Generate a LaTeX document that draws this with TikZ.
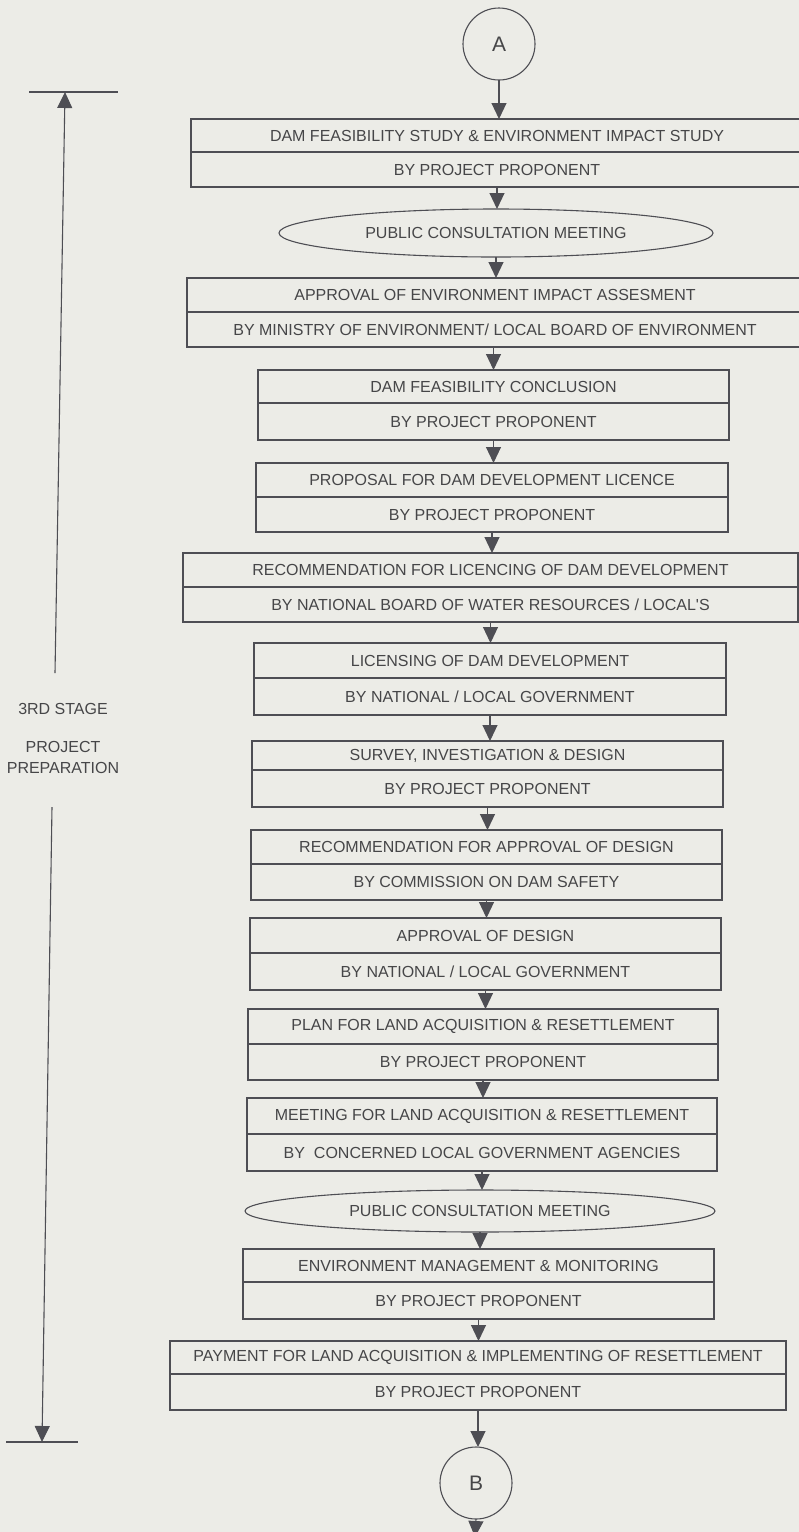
\documentclass[tikz,border=0pt]{standalone}
\usepackage{fontspec}
\setmainfont{Liberation Sans}
\usetikzlibrary{arrows.meta,shapes.geometric}

\definecolor{paper}{RGB}{236,236,231}
\definecolor{ink}{RGB}{78,78,84}
\definecolor{txt}{RGB}{70,70,72}

% two-part process box: title part on top, responsible party below
% #1 name, #2 centre x, #3 top y, #4 width, #5 upper height, #6 lower height, #7 title, #8 party
\newcommand\flowbox[8]{%
  \node[part, minimum width=#4pt, minimum height=#5pt, anchor=north] (#1) at (#2,#3) {#7};
  \node[part, minimum width=#4pt, minimum height=#6pt, anchor=north] (#1b) at (#1.south) {#8};
}

\begin{document}
\begin{tikzpicture}[x=1pt,y=-1pt,
  every node/.style={text=txt, font=\fontsize{16}{19}\selectfont},
  part/.style={draw=ink, line width=1.1pt, rectangle, inner sep=0pt, outer sep=0pt},
  meet/.style={draw=ink, line width=1.1pt, ellipse, inner sep=0pt, outer sep=0pt},
  conn/.style={draw=ink, line width=1.1pt, circle, inner sep=0pt, outer sep=0pt,
    minimum size=72pt, font=\fontsize{21}{24}\selectfont},
  arr/.style={draw=ink, line width=1.1pt, -{Triangle[width=15pt,length=16pt,fill=ink]}},
  bar/.style={draw=ink, line width=1.1pt}]

\fill[paper] (0,0) rectangle (799,1532);
\useasboundingbox (0,0) rectangle (799,1532);

% connector in
\node[conn] (A) at (499,44) {A};

% main process chain
\flowbox{s1}{497}{119}{612}{33}{35}{DAM FEASIBILITY STUDY \& ENVIRONMENT IMPACT STUDY}{BY PROJECT PROPONENT}
\node[meet, minimum width=434pt, minimum height=48pt] (pc1) at (496,233) {PUBLIC CONSULTATION MEETING};
\flowbox{s2}{495}{278}{616}{34}{35}{APPROVAL OF ENVIRONMENT IMPACT ASSESMENT}{BY MINISTRY OF ENVIRONMENT/ LOCAL BOARD OF ENVIRONMENT}
\flowbox{s3}{493.5}{370}{471}{33}{37}{DAM FEASIBILITY CONCLUSION}{BY PROJECT PROPONENT}
\flowbox{s4}{492}{463}{472}{34}{35}{PROPOSAL FOR DAM DEVELOPMENT LICENCE}{BY PROJECT PROPONENT}
\flowbox{s5}{490.5}{553}{615}{34}{35}{RECOMMENDATION FOR LICENCING OF DAM DEVELOPMENT}{BY NATIONAL BOARD OF WATER RESOURCES / LOCAL\textquotesingle S}
\flowbox{s6}{490}{643}{472}{35}{37}{LICENSING OF DAM DEVELOPMENT}{BY NATIONAL / LOCAL GOVERNMENT}
\flowbox{s7}{487.5}{741}{471}{29}{37}{SURVEY, INVESTIGATION \& DESIGN}{BY PROJECT PROPONENT}
\flowbox{s8}{486.5}{830}{471}{34}{36}{RECOMMENDATION FOR APPROVAL OF DESIGN}{BY COMMISSION ON DAM SAFETY}
\flowbox{s9}{485.5}{918}{471}{35}{37}{APPROVAL OF DESIGN}{BY NATIONAL / LOCAL GOVERNMENT}
\flowbox{s10}{483}{1009}{470}{35}{36}{PLAN FOR LAND ACQUISITION \& RESETTLEMENT}{BY PROJECT PROPONENT}
\flowbox{s11}{482}{1098}{470}{36}{37}{MEETING FOR LAND ACQUISITION \& RESETTLEMENT}{BY\ \ CONCERNED LOCAL GOVERNMENT AGENCIES}
\node[meet, minimum width=470pt, minimum height=42pt] (pc2) at (480,1211) {PUBLIC CONSULTATION MEETING};
\flowbox{s12}{478.5}{1249}{471}{33}{37}{ENVIRONMENT MANAGEMENT \& MONITORING}{BY PROJECT PROPONENT}
\flowbox{s13}{478}{1341}{616}{33}{36}{PAYMENT FOR LAND ACQUISITION \& IMPLEMENTING OF RESETTLEMENT}{BY PROJECT PROPONENT}

% connector out
\node[conn] (B) at (476,1483) {B};
\coordinate (Bout) at (475,1537);

% arrows between steps
\draw[arr] (A.south) -- (A.south |- s1.north);
\draw[arr] (s1b.south) -- (s1b.south |- pc1.north);
\draw[arr] (pc1.south) -- (pc1.south |- s2.north);
\draw[arr] (s2b.south -| s3.north) -- (s3.north);
\draw[arr] (s3b.south) -- (s3b.south |- s4.north);
\draw[arr] (s4b.south) -- (s4b.south |- s5.north);
\draw[arr] (s5b.south) -- (s5b.south |- s6.north);
\draw[arr] (s6b.south) -- (s6b.south |- s7.north);
\draw[arr] (s7b.south) -- (s7b.south |- s8.north);
\draw[arr] (s8b.south) -- (s8b.south |- s9.north);
\draw[arr] (s9b.south) -- (s9b.south |- s10.north);
\draw[arr] (s10b.south) -- (s10b.south |- s11.north);
\draw[arr] (s11b.south) -- (s11b.south |- pc2.north);
\draw[arr] (pc2.south) -- (pc2.south |- s12.north);
\draw[arr] (s12b.south) -- (s12b.south |- s13.north);
\draw[arr] (s13b.south) -- (s13b.south |- B.north);
\draw[arr] (B.south) -- (Bout);

% stage extent marker on the left
\coordinate (topL) at (29,92);
\coordinate (topR) at (118,92);
\coordinate (topTip) at (65,92);
\coordinate (topFoot) at (55,673);
\coordinate (botL) at (6,1442);
\coordinate (botR) at (78,1442);
\coordinate (botTip) at (42,1442);
\coordinate (botFoot) at (52,807);
\draw[bar] (topL) -- (topR);
\draw[bar] (botL) -- (botR);
\draw[arr] (topFoot) -- (topTip);
\draw[arr] (botFoot) -- (botTip);

\node (stage) at (63,709) {3RD STAGE};
\node[align=center, font=\fontsize{16}{21}\selectfont] (phase) at (63,757.5) {PROJECT\\PREPARATION};

\end{tikzpicture}
\end{document}
